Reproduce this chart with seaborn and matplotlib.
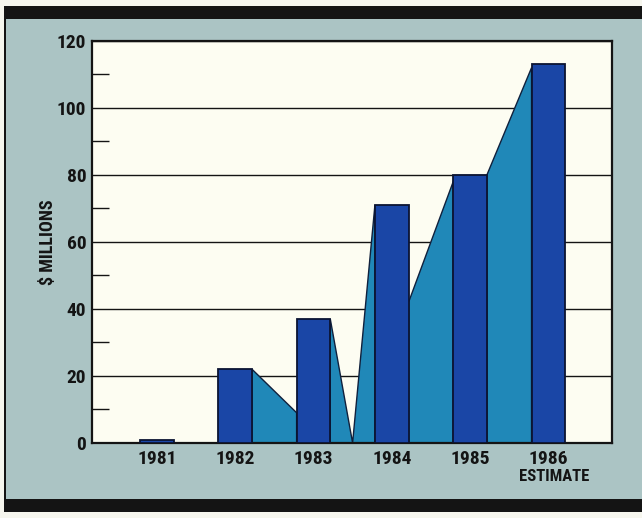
import matplotlib
matplotlib.use('Agg')
import matplotlib.pyplot as plt
import seaborn as sns
from matplotlib.patches import Rectangle
from matplotlib import font_manager

# values ($ millions)
years = ['1981', '1982', '1983', '1984', '1985', '1986']
revenue = [1, 22, 37, 71, 80, 113]

# light ribbon between neighbouring bars (82-83, 83-84, 84-85, 85-86)
ribbon_out = [22, 37, 42, 80]   # height leaving the left bar
ribbon_in = [9, 71, 78, 112]    # height reaching the right bar
ribbon_dip = [False, True, False, False]  # drops to zero in the gap

major_ticks = [0, 20, 40, 60, 80, 100, 120]
minor_ticks = [10, 30, 50, 70, 90, 110]

dark_blue = '#1a46a6'
light_blue = '#2088b8'
panel = '#abc4c4'
paper = '#fdfdf2'
ink = '#141414'
bar_w = 0.43

# pick a narrow face if there is one
names = {f.name for f in font_manager.fontManager.ttflist}
font = [n for n in ['Liberation Sans Narrow', 'DejaVu Sans Condensed', 'Roboto Condensed',
                    'Open Sans Condensed', 'Roboto'] if n in names][:1] + ['DejaVu Sans']

fig = plt.figure(figsize=(6.42, 5.18), dpi=100, facecolor='#f6f6ee')
ax = fig.add_axes([0.143, 0.145, 0.81, 0.776])

# page frame: teal panel with black bands top and bottom
W, H = 642, 518
fig.add_artist(Rectangle((6 / W, 1 - 500 / H), 1, 482 / H, transform=fig.transFigure,
                         facecolor=panel, edgecolor='none', zorder=-2))
fig.add_artist(Rectangle((4 / W, 1 - 19 / H), 1, 13 / H, transform=fig.transFigure,
                         facecolor=ink, edgecolor='none', zorder=-1))
fig.add_artist(Rectangle((4 / W, 1 - 512 / H), 1, 13 / H, transform=fig.transFigure,
                         facecolor=ink, edgecolor='none', zorder=-1))
fig.add_artist(Rectangle((4 / W, 1 - 512 / H), 2 / W, 506 / H, transform=fig.transFigure,
                         facecolor=ink, edgecolor='none', zorder=-1))

ax.set_facecolor(paper)

sns.barplot(x=years, y=revenue, color=dark_blue, saturation=1, width=bar_w,
            edgecolor='#0b1432', linewidth=1.3, zorder=3, ax=ax)

# ribbon polygons between the bars
for i in range(len(ribbon_out)):
    x0 = i + 1 + bar_w / 2
    x1 = i + 2 - bar_w / 2
    xs = [x0, x0]
    ys = [0, ribbon_out[i]]
    if ribbon_dip[i]:
        xs.append((x0 + x1) / 2)
        ys.append(0)
    xs += [x1, x1]
    ys += [ribbon_in[i], 0]
    ax.fill(xs, ys, facecolor=light_blue, edgecolor='#10203c', linewidth=1, zorder=2)

ax.set_xlim(-0.83, 5.81)
ax.set_ylim(0, 120)
ax.set_yticks(major_ticks)
ax.set_yticks(minor_ticks, minor=True)
ax.yaxis.grid(True, which='major', color=ink, linewidth=1)
ax.set_axisbelow(True)

ax.tick_params(axis='y', which='major', length=0, pad=4)
ax.tick_params(axis='y', which='minor', direction='in', length=12, width=1, color=ink)
ax.tick_params(axis='x', length=0, pad=5)

for lab in ax.get_yticklabels() + ax.get_xticklabels():
    lab.set_fontfamily(font)
    lab.set_fontweight('bold')
    lab.set_fontsize(14)
    lab.set_color(ink)

for s in ax.spines.values():
    s.set_color(ink)
    s.set_linewidth(1.6)

ax.set_xlabel('')
ax.set_ylabel('$ MILLIONS', family=font, fontweight='bold', fontsize=13, color=ink)
ax.yaxis.set_label_coords(-0.067, 0.5)

ax.annotate('ESTIMATE', xy=(5, 0), xycoords=('data', 'axes fraction'),
            xytext=(4, -19), textcoords='offset points', ha='center', va='top',
            family=font, fontweight='bold', fontsize=12, color=ink)

fig.savefig('out.png', dpi=100, facecolor=fig.get_facecolor())
